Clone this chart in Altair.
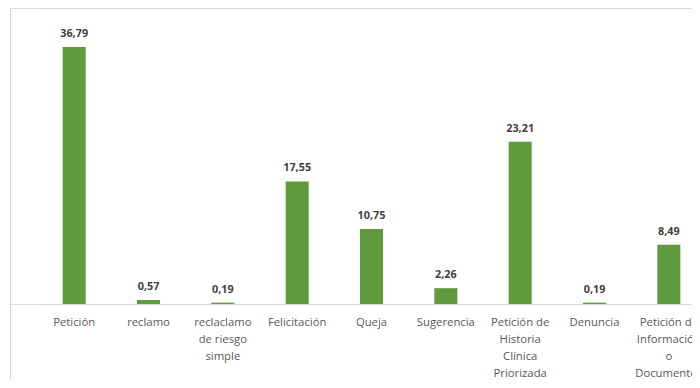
import altair as alt
import pandas as pd

categories = [
    "Petición",
    "reclamo",
    "reclaclamo\nde riesgo\nsimple",
    "Felicitación",
    "Queja",
    "Sugerencia",
    "Petición de\nHistoria\nClínica\nPriorizada",
    "Denuncia",
    "Petición de\nInformación\no\nDocumentos",
]
values = [36.79, 0.57, 0.19, 17.55, 10.75, 2.26, 23.21, 0.19, 8.49]

labels = [f"{v:.2f}".replace(".", ",") for v in values]
df = pd.DataFrame({"cat": categories, "val": values, "lbl": labels})

FONT = "Open Sans"

x = alt.X(
    "cat:N",
    sort=categories,
    scale=alt.Scale(range=[27, 696], paddingInner=0.69, paddingOuter=0.345),
    axis=alt.Axis(
        title=None,
        ticks=False,
        domainColor="#d9d9d9",
        domainWidth=1,
        labelAngle=0,
        labelExpr="split(datum.label, '\\n')",
        labelLineHeight=17.3,
        labelPadding=12,
        labelFont=FONT,
        labelFontSize=11.3,
        labelColor="#595959",
        labelOverlap=False,
        labelBound=False,
        labelFlush=False,
    ),
)
y = alt.Y(
    "val:Q",
    scale=alt.Scale(domain=[-12.03, 42.37], range=[380, 0], nice=False, zero=False),
    axis=alt.Axis(
        title=None,
        labels=False,
        ticks=False,
        values=[42.37],
        grid=True,
        gridColor="#d9d9d9",
        domainColor="#d9d9d9",
    ),
)

bars = alt.Chart(df).mark_bar(color="#5f9b3c").encode(x=x, y=y, y2=alt.datum(0))
text = alt.Chart(df).mark_text(
    baseline="bottom", dy=-8, font=FONT, fontSize=10.8, fontWeight="bold", color="#404040"
).encode(x=x, y=y, text="lbl:N")

chart = (
    alt.layer(bars, text)
    .properties(
        width=682,
        height=296,
        padding={"left": 2, "top": 0, "right": 0, "bottom": 76},
        autosize=alt.AutoSizeParams(type="none"),
    )
    .configure_view(stroke=None)
    .configure(background="white")
)

chart.save("out.html", embed_options={"renderer": "svg", "actions": False})
